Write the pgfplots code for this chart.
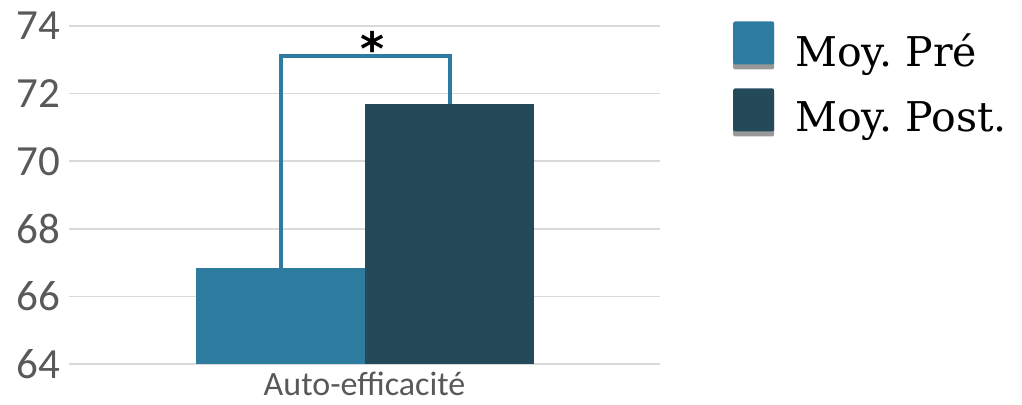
\documentclass[border=0pt]{standalone}
\usepackage{fontspec}
\setmainfont{Carlito}
\newfontfamily\legfont{DejaVu Serif}
\newfontfamily\astfont{DejaVu Sans}
\usepackage{pgfplots}
\pgfplotsset{compat=1.18}
\definecolor{pre}{HTML}{2E7BA0}
\definecolor{post}{HTML}{244A5A}
\definecolor{ticktext}{HTML}{595959}
\definecolor{gridc}{HTML}{D9D9D9}
\begin{document}
\begin{tikzpicture}
\useasboundingbox (-69pt,-40pt) rectangle (953pt,364pt);
\begin{axis}[
  scale only axis, width=591pt, height=338pt,
  xmin=69, xmax=660, ymin=64, ymax=74,
  ytick={64,66,...,74},
  xtick={364.5}, xticklabels={Auto-efficacité},
  ymajorgrids, grid style={gridc, line width=1.5pt},
  axis line style={draw=none},
  major tick length=0pt,
  tick label style={text=ticktext, inner sep=0pt},
  yticklabel style={font=\fontsize{43}{43}\selectfont, xshift=-9pt},
  xticklabel style={font=\fontsize{34}{34}\selectfont, yshift=-8pt},
  /pgf/number format/assume math mode=true,
  ybar, bar width=168.5pt, bar shift=0pt,
  legend style={at={(1.1184,1.02)}, anchor=north west, draw=none, fill=none,
    font=\legfont\frenchspacing\fontsize{41}{41}\selectfont, row sep=19pt, column sep=0pt,
    nodes={inner sep=0pt}},
  legend cell align=left,
]
\addplot[fill=pre, draw=none, bar shift=0pt,
  legend image code/.code={
    \fill[black!40, rounded corners=2pt] (0pt,-19pt) rectangle (41pt,25pt);
    \fill[pre, rounded corners=2pt] (0pt,-14pt) rectangle (41pt,29pt);
    \path (62pt,0pt);}]
  coordinates {(280.5,66.84)};
\addplot[fill=post, draw=none, bar shift=0pt,
  legend image code/.code={
    \fill[black!40, rounded corners=2pt] (0pt,-19pt) rectangle (41pt,25pt);
    \fill[post, rounded corners=2pt] (0pt,-14pt) rectangle (41pt,29pt);
    \path (62pt,0pt);}]
  coordinates {(449.5,71.69)};
\addplot[sharp plot, draw=pre, line width=4pt, forget plot]
  coordinates {(280.5,66.84) (280.5,73.1) (449.5,73.1) (449.5,71.69)};
\node[font=\astfont\bfseries\fontsize{46}{46}\selectfont, anchor=base] at (axis cs:372.5,72.82) {*};
\legend{Moy. Pré, Moy. Post.}
\end{axis}
\end{tikzpicture}
\end{document}
